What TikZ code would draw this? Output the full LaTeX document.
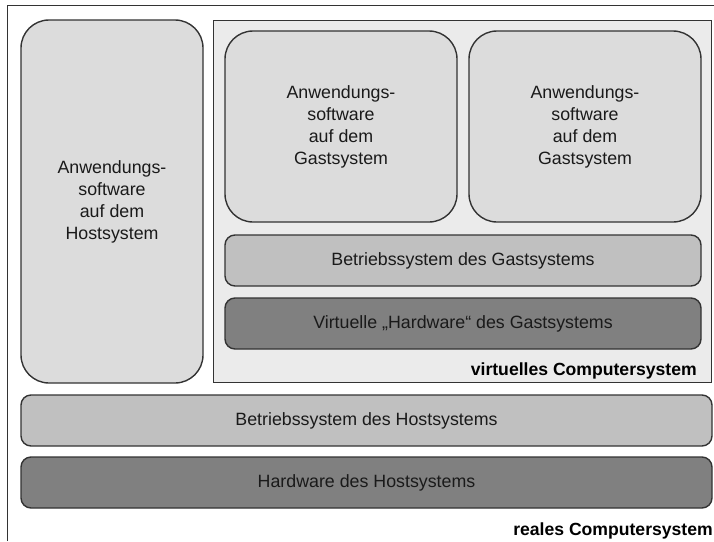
\documentclass[tikz,border=0pt]{standalone}
\usepackage{fontspec}
\setmainfont{Liberation Sans}
\definecolor{strokec}{HTML}{333333}
\definecolor{appfill}{HTML}{DCDCDC}
\definecolor{virtfill}{HTML}{EBEBEB}
\definecolor{osfill}{HTML}{C0C0C0}
\definecolor{hwfill}{HTML}{808080}
\definecolor{textc}{HTML}{1A1A1A}
\begin{document}
\begin{tikzpicture}[x=1pt,y=-1pt,
  box/.style={draw=strokec, line width=1.4pt, rectangle, inner sep=0pt, outer sep=0pt,
    text=textc, align=center, font=\fontsize{17.8}{22}\selectfont},
  appbox/.style={box, fill=appfill, rounded corners=28pt},
  osbox/.style={box, fill=osfill, rounded corners=10pt},
  hwbox/.style={box, fill=hwfill, rounded corners=10pt},
  lbl/.style={font=\fontsize{17.6}{20}\selectfont\bfseries, text=black, inner sep=0pt}
]
\useasboundingbox (0,0) rectangle (714,541);
\fill[white] (0,0) rectangle (714,541);
% outer frame (cut at right and bottom)
\draw[strokec, line width=1pt] (7,541) -- (7,5.3) -- (714,5.3);

% virtual computer system area
\node[draw=strokec, line width=1pt, fill=virtfill, rectangle, inner sep=0pt,
  minimum width=498, minimum height=362] (virt) at (462.5,201) {};

% host application
\node[appbox, minimum width=182, minimum height=363] (hostapp) at (112,201.5)
  {Anwendungs-\\software\\auf dem\\Hostsystem};

% guest applications
\node[appbox, minimum width=232, minimum height=191] (guest1) at (341,126.5)
  {Anwendungs-\\software\\auf dem\\Gastsystem};
\node[appbox, minimum width=232, minimum height=191] (guest2) at (585,126.5)
  {Anwendungs-\\software\\auf dem\\Gastsystem};

% guest OS and virtual hardware
\node[osbox, minimum width=476, minimum height=51] (guestos) at (463,260.5)
  {Betriebssystem des Gastsystems};
\node[hwbox, minimum width=476, minimum height=51] (virthw) at (463,323.5)
  {Virtuelle „Hardware“ des Gastsystems};

\node[lbl, anchor=base east] (virtlbl) at (697,375) {virtuelles Computersystem};

% host OS and hardware
\node[osbox, minimum width=691, minimum height=51] (hostos) at (366.5,420.5)
  {Betriebssystem des Hostsystems};
\node[hwbox, minimum width=691, minimum height=51] (hosthw) at (366.5,482.5)
  {Hardware des Hostsystems};

\node[lbl, anchor=base east] (reallbl) at (713,535) {reales Computersystem};
\end{tikzpicture}
\end{document}
